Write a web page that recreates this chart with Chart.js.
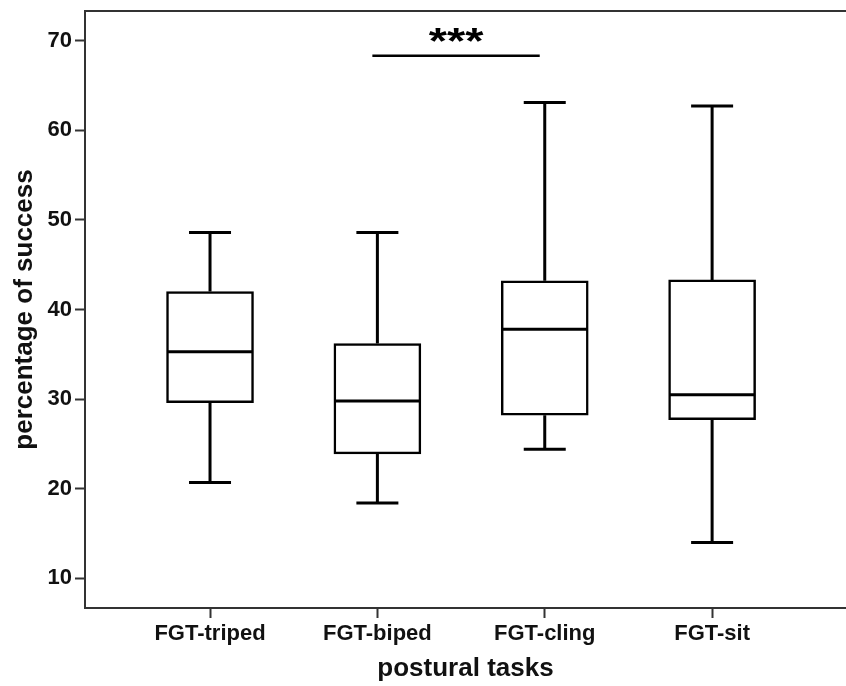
<!DOCTYPE html>
<html>
<head>
<meta charset="utf-8">
<script src="https://cdn.jsdelivr.net/npm/chart.js@4.4.1/dist/chart.umd.min.js"></script>
<style>
  html, body { margin: 0; padding: 0; background: #fff; }
  #wrap { width: 846px; height: 686px; }
</style>
</head>
<body>
<div id="wrap"><canvas id="myChart" width="846" height="686"></canvas></div>
<script>
const tasks = ["FGT-triped", "FGT-biped", "FGT-cling", "FGT-sit"];
const whiskerLow  = [20.7, 18.4, 24.4, 14.0];
const quart1      = [29.6, 23.9, 28.2, 27.7];
const medians     = [35.3, 29.8, 37.8, 30.5];
const quart3      = [42.0, 36.2, 43.2, 43.3];
const whiskerHigh = [48.6, 48.6, 63.1, 62.7];
const yTicks = [10, 20, 30, 40, 50, 60, 70];
// significance bar between biped and cling
const sigFrom = 1.97, sigTo = 2.97, sigLevel = 68.3, sigText = "***";

const ink = "#000";
const frame = "#333";

const boxExtras = {
  id: 'boxExtras',
  afterDatasetsDraw(chart) {
    const ctx = chart.ctx;
    const x = chart.scales.x, y = chart.scales.y;
    const area = chart.chartArea;
    ctx.save();
    ctx.strokeStyle = ink;
    ctx.lineCap = 'butt';
    for (let i = 0; i < tasks.length; i++) {
      const cx = x.getPixelForValue(i + 1);
      // whiskers
      ctx.lineWidth = 3;
      ctx.beginPath();
      ctx.moveTo(cx, y.getPixelForValue(quart3[i]));
      ctx.lineTo(cx, y.getPixelForValue(whiskerHigh[i]));
      ctx.moveTo(cx, y.getPixelForValue(quart1[i]));
      ctx.lineTo(cx, y.getPixelForValue(whiskerLow[i]));
      ctx.stroke();
      // caps
      ctx.beginPath();
      ctx.moveTo(cx - 21, y.getPixelForValue(whiskerHigh[i]));
      ctx.lineTo(cx + 21, y.getPixelForValue(whiskerHigh[i]));
      ctx.moveTo(cx - 21, y.getPixelForValue(whiskerLow[i]));
      ctx.lineTo(cx + 21, y.getPixelForValue(whiskerLow[i]));
      ctx.stroke();
      // median
      ctx.beginPath();
      ctx.moveTo(cx - 43, y.getPixelForValue(medians[i]));
      ctx.lineTo(cx + 43, y.getPixelForValue(medians[i]));
      ctx.stroke();
    }
    // significance
    const sy = y.getPixelForValue(sigLevel);
    const sx1 = x.getPixelForValue(sigFrom), sx2 = x.getPixelForValue(sigTo);
    ctx.lineWidth = 2.5;
    ctx.beginPath();
    ctx.moveTo(sx1, sy);
    ctx.lineTo(sx2, sy);
    ctx.stroke();
    ctx.fillStyle = ink;
    ctx.font = "bold 36px 'Liberation Sans', Arial, sans-serif";
    ctx.textAlign = 'center';
    ctx.textBaseline = 'alphabetic';
    ctx.translate((sx1 + sx2) / 2, sy - 2);
    ctx.scale(1.3, 1);
    ctx.fillText(sigText, 0, 0);
    ctx.setTransform(1, 0, 0, 1, 0, 0);
    // top frame line
    ctx.strokeStyle = frame;
    ctx.lineWidth = 2;
    ctx.beginPath();
    ctx.moveTo(area.left - 1, area.top);
    ctx.lineTo(area.right, area.top);
    ctx.stroke();
    ctx.restore();
  }
};

const ctx = document.getElementById('myChart');
const myChart = new Chart(ctx, {
  type: 'bar',
  data: {
    datasets: [{
      label: 'box',
      data: tasks.map((t, i) => ({ x: i + 1, y: [quart1[i], quart3[i]] })),
      backgroundColor: '#fff',
      borderColor: ink,
      borderWidth: 2.5,
      borderSkipped: false,
      barThickness: 87
    }]
  },
  options: {
    responsive: false,
    maintainAspectRatio: false,
    animation: false,
    layout: { padding: { top: 11, right: 0, left: 0, bottom: 0 } },
    plugins: { legend: { display: false }, tooltip: { enabled: false } },
    scales: {
      x: {
        type: 'linear',
        offset: false,
        min: 0.253,
        max: 4.80,
        afterBuildTicks: s => { s.ticks = tasks.map((t, i) => ({ value: i + 1 })); },
        afterFit: s => { s.height = 78; s.paddingLeft = 0; s.paddingRight = 0; },
        grid: { display: true, offset: false, drawOnChartArea: false, drawTicks: true, tickLength: 10, tickColor: frame, tickWidth: 2 },
        border: { display: true, color: frame, width: 2 },
        ticks: {
          autoSkip: false,
          maxRotation: 0,
          padding: 3,
          color: '#111',
          font: { family: "'Liberation Sans', Arial, sans-serif", size: 22, weight: 'bold' },
          callback: v => tasks[Math.round(v) - 1]
        },
        title: {
          display: true,
          text: 'postural tasks',
          color: '#111',
          padding: { top: 0, bottom: 2 },
          font: { family: "'Liberation Sans', Arial, sans-serif", size: 26, weight: 'bold' }
        }
      },
      y: {
        min: 6.7,
        max: 73.3,
        afterBuildTicks: s => { s.ticks = yTicks.map(v => ({ value: v })); },
        afterFit: s => { s.width = 85; s.paddingTop = 0; s.paddingBottom = 0; },
        grid: { display: true, drawOnChartArea: false, drawTicks: true, tickLength: 10, tickColor: frame, tickWidth: 2 },
        border: { display: true, color: frame, width: 2 },
        ticks: {
          padding: 3,
          color: '#111',
          font: { family: "'Liberation Sans', Arial, sans-serif", size: 22, weight: 'bold' }
        },
        title: {
          display: true,
          text: 'percentage of success',
          color: '#111',
          padding: { top: 9, bottom: 0 },
          font: { family: "'Liberation Sans', Arial, sans-serif", size: 26, weight: 'bold' }
        }
      }
    }
  },
  plugins: [boxExtras]
});
</script>
</body>
</html>
